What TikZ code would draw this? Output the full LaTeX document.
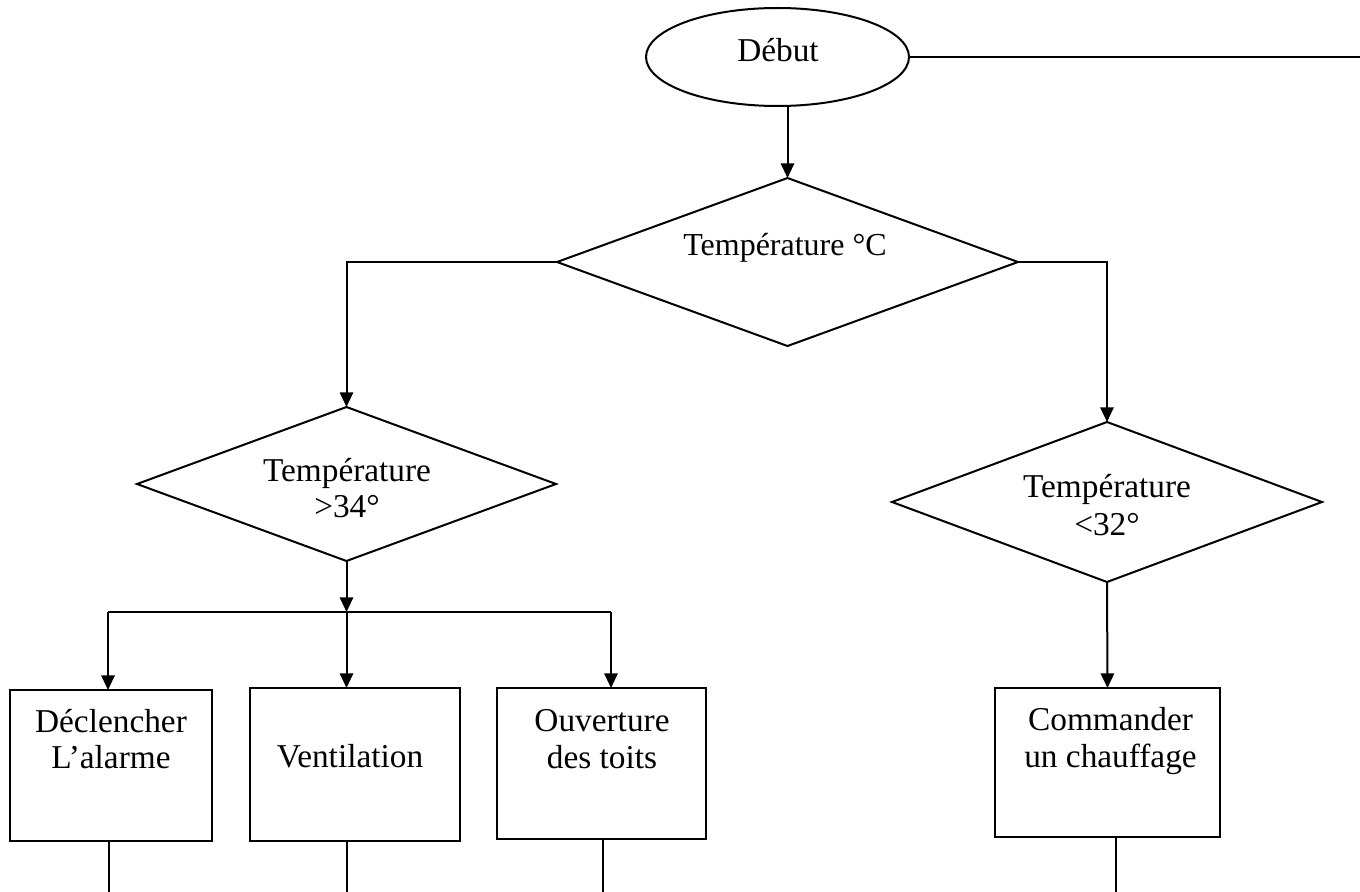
\documentclass[tikz,border=0pt]{standalone}
\usepackage{fontspec}
\setmainfont{Liberation Serif}
\usetikzlibrary{shapes.geometric,arrows.meta}
\begin{document}
\begin{tikzpicture}[x=0.75pt,y=-0.75pt,
  line width=1.5pt,
  arr/.style={-{Triangle[length=11pt,width=10pt]}},
  shp/.style={draw,inner sep=0pt,outer sep=0pt},
  txt/.style={anchor=base,inner sep=0pt,font=\fontsize{24}{30}\selectfont},
  txtb/.style={anchor=base,inner sep=0pt,font=\fontsize{25}{30}\selectfont}]
\useasboundingbox (0,0) rectangle (1360,892);
% shapes
\node[shp,ellipse,minimum width=197.25pt,minimum height=73.5pt] (start) at (777.5,57) {};
\node[shp,diamond,minimum width=345.75pt,minimum height=126pt] (d1) at (787.5,262) {};
\node[shp,diamond,minimum width=314.25pt,minimum height=115.5pt] (d2) at (346.5,484) {};
\node[shp,diamond,minimum width=322.5pt,minimum height=120pt] (d3) at (1107,502) {};
\node[shp,rectangle,minimum width=151.5pt,minimum height=113.25pt] (b1) at (111,765.5) {};
\node[shp,rectangle,minimum width=157.5pt,minimum height=114.75pt] (b2) at (355,764.5) {};
\node[shp,rectangle,minimum width=156.75pt,minimum height=113.25pt] (b3) at (601.5,763.5) {};
\node[shp,rectangle,minimum width=168.75pt,minimum height=111.75pt] (b4) at (1107.5,762.5) {};
% texts
\node[txtb] (tstart) at (778,62) {Début};
\node[txt] (td1) at (785,255) {Température °C};
\node[txtb] (td2a) at (347,481) {Température};
\node[txtb] (td2b) at (347,517) {>34°};
\node[txtb] (td3a) at (1107,497) {Température};
\node[txtb] (td3b) at (1107,535) {<32°};
\node[txtb] (tb1a) at (111,732) {Déclencher};
\node[txtb] (tb1b) at (111,768) {L’alarme};
\node[txtb] (tb2) at (350,767) {Ventilation};
\node[txtb] (tb3a) at (602,731) {Ouverture};
\node[txtb] (tb3b) at (602,768) {des toits};
\node[txtb] (tb4a) at (1110.5,730) {Commander};
\node[txtb] (tb4b) at (1110.5,767) {un chauffage};
% coordinates
\coordinate (edgeR) at (1360,57);
\coordinate (j) at (346.5,612);
\coordinate (j1) at (108,612);
\coordinate (j3) at (611,612);
\coordinate (e1) at (109,892);
\coordinate (e2) at (347,892);
\coordinate (e3) at (603,892);
\coordinate (e4) at (1116,892);
% connectors
\draw (start.east) -- (edgeR);
\draw[arr] (start.south -| d1.north) -- (d1.north);
\draw[arr] (d1.west) -| (d2.north);
\draw[arr] (d1.east) -| (d3.north);
\draw[arr] (d2.south) -- (j);
\draw (j1) -- (j3);
\draw[arr] (j1) -- (j1 |- b1.north);
\draw[arr] (j) -- (j |- b2.north);
\draw[arr] (j3) -- (j3 |- b3.north);
\draw[arr] (d3.south) -- (b4.north);
\draw (e1 |- b1.south) -- (e1);
\draw (e2 |- b2.south) -- (e2);
\draw (e3 |- b3.south) -- (e3);
\draw (e4 |- b4.south) -- (e4);
\end{tikzpicture}
\end{document}
